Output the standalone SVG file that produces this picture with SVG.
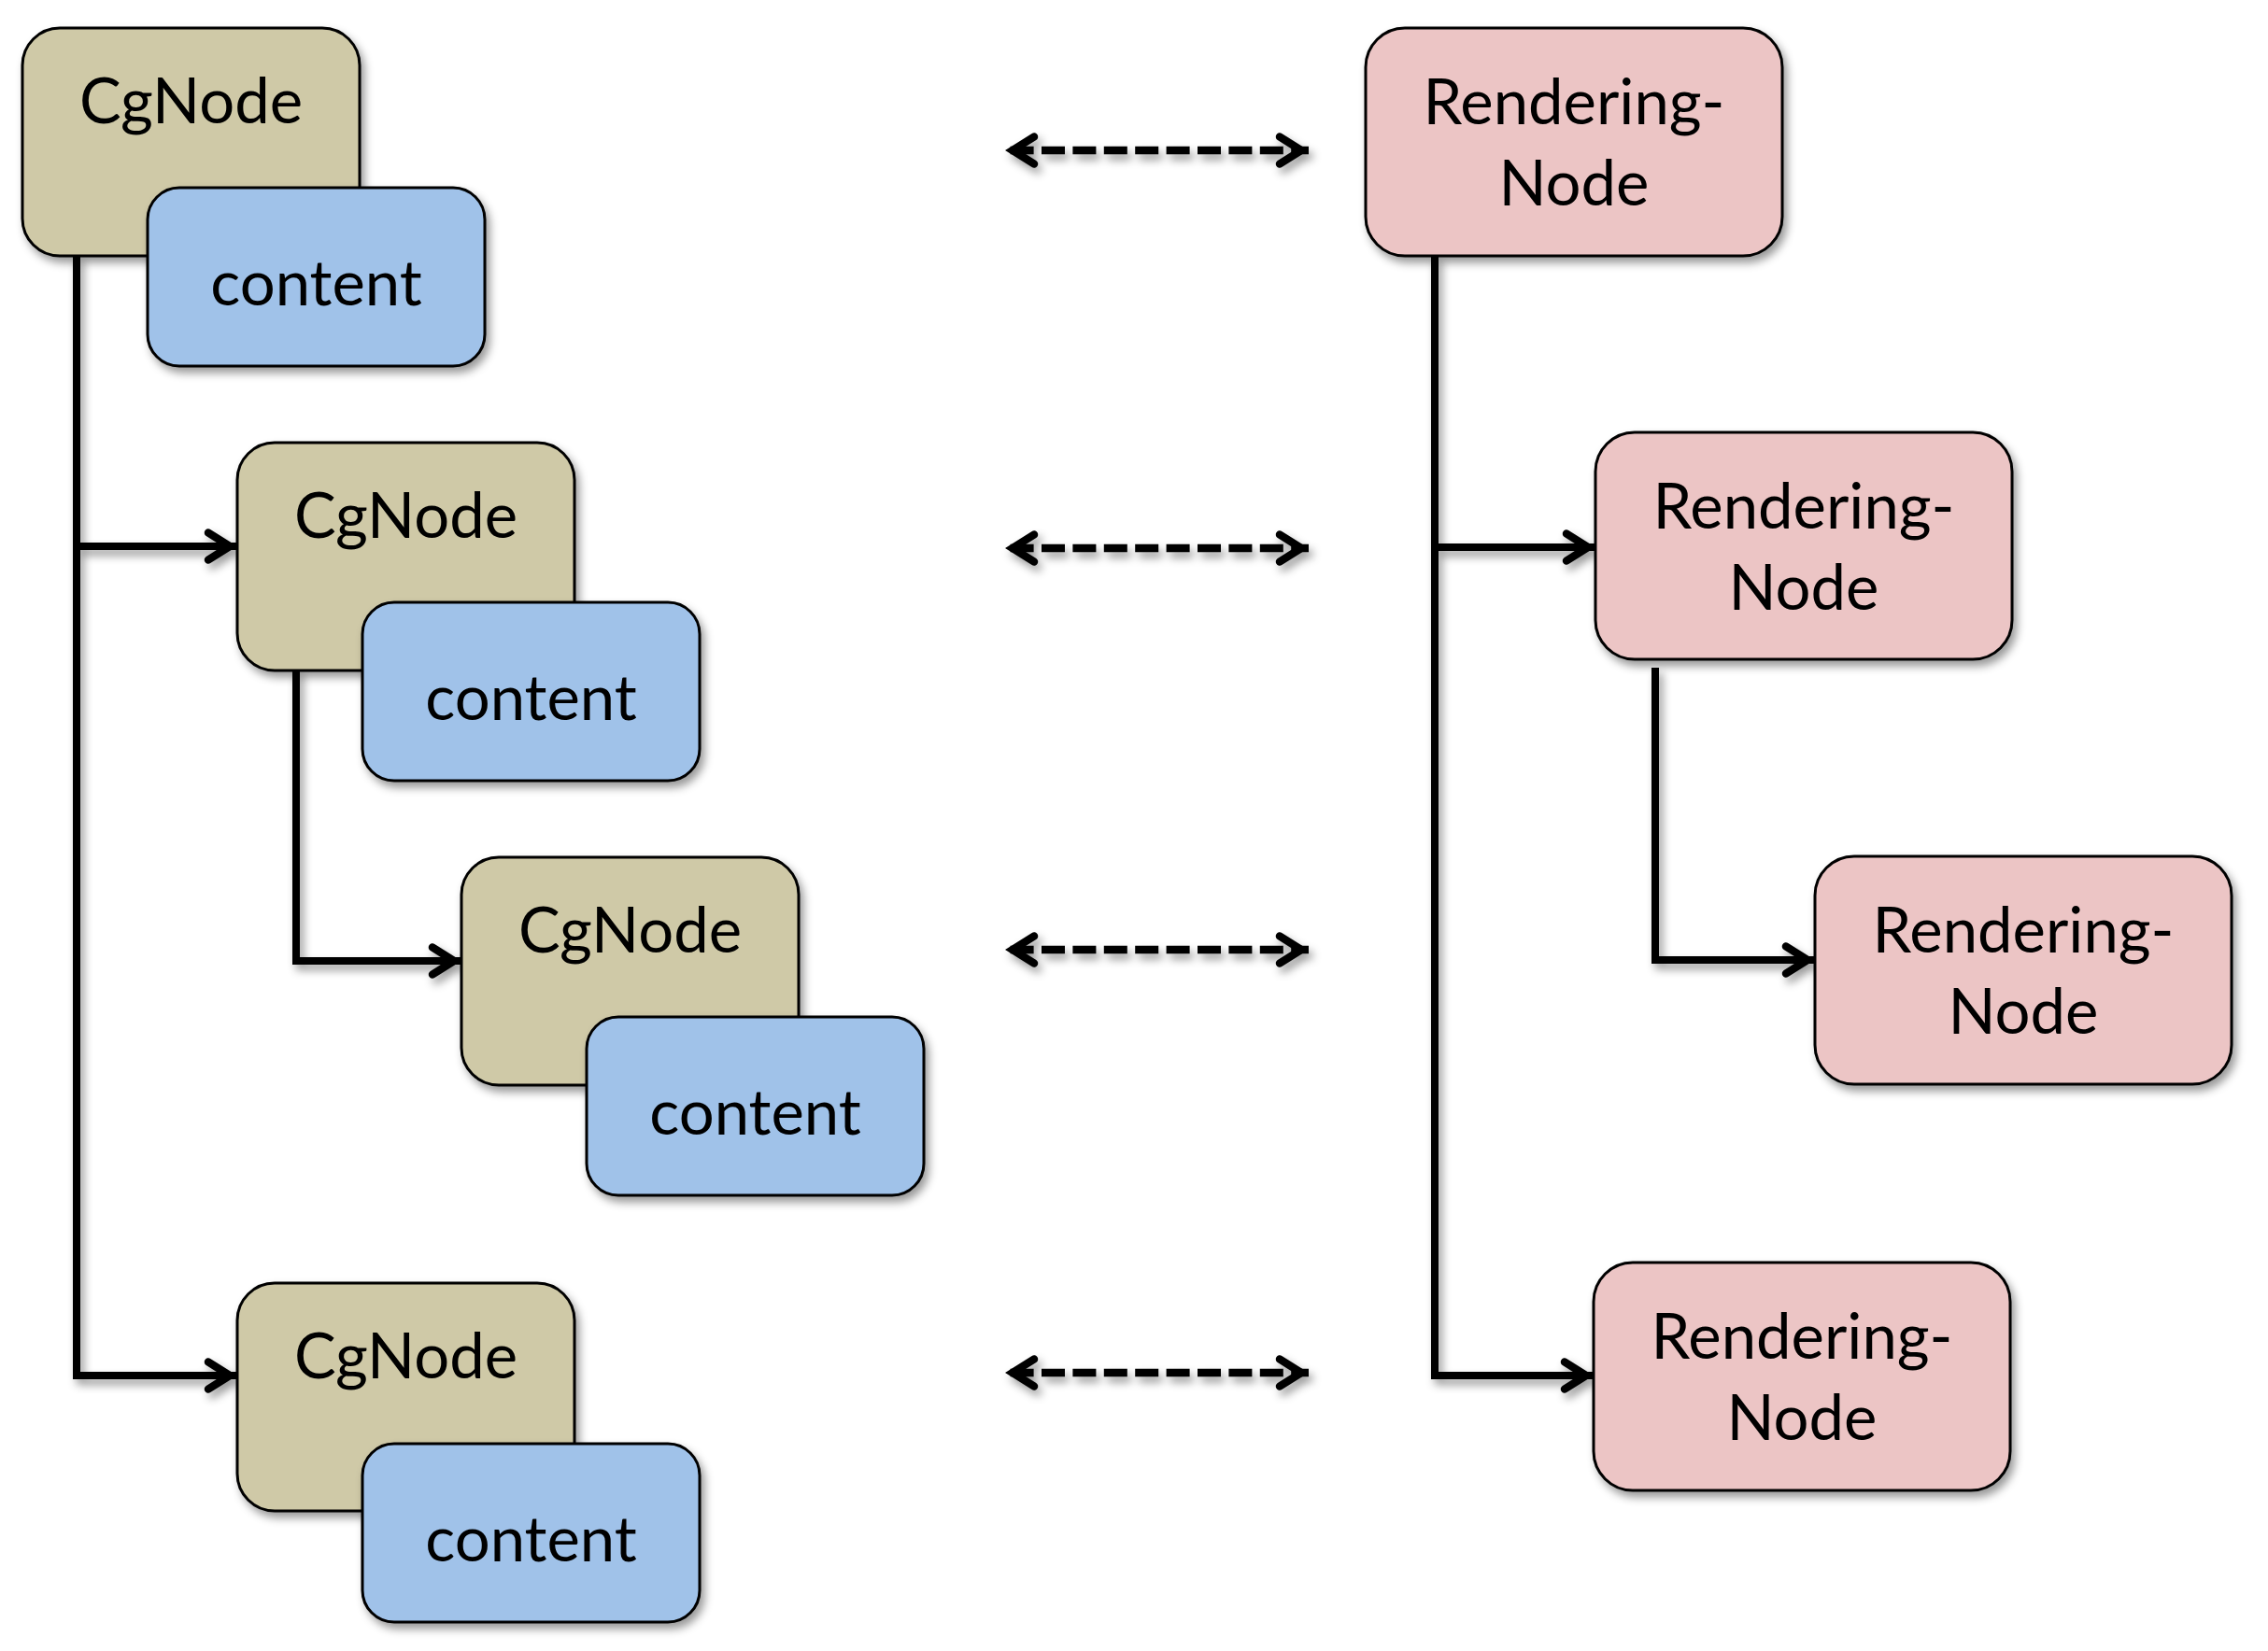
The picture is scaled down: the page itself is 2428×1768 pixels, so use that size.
<svg xmlns="http://www.w3.org/2000/svg" width="2428" height="1768" viewBox="0 0 2428 1768">
  <defs>
    <filter id="sh" x="-10%" y="-10%" width="130%" height="140%">
      <feDropShadow dx="4" dy="6" stdDeviation="5" flood-color="#000" flood-opacity="0.4"/>
    </filter>
    <marker id="chev" markerUnits="userSpaceOnUse" viewBox="-44 -24 50 48" refX="0" refY="0" markerWidth="50" markerHeight="48" orient="auto-start-reverse" overflow="visible">
      <path d="M -31 -14.5 L -8 0 L -31 14.5" fill="none" stroke="#000" stroke-width="8.5" stroke-linecap="round" stroke-linejoin="miter" stroke-dasharray="none"/>
    </marker>
    <style>
      .cg { fill: #CFC9A7; stroke: #000; stroke-width: 3; }
      .ct { fill: #A0C2E9; stroke: #000; stroke-width: 3; }
      .rn { fill: #ECC5C5; stroke: #000; stroke-width: 3; }
      .lbl { font-family: Lato, "Liberation Sans", sans-serif; font-size: 67px; fill: #000; text-anchor: middle; }
      .ln { fill: none; stroke: #000; stroke-width: 8; stroke-linejoin: miter; stroke-linecap: butt; }
      .dash { fill: none; stroke: #000; stroke-width: 8.5; stroke-dasharray: 25 8.4; stroke-dashoffset: 27.8; }
    </style>
  </defs>
  <rect width="2428" height="1768" fill="#fff"/>

  <g id="connectors" filter="url(#sh)">
    <path class="ln" d="M 82 274 V 1473 H 254" marker-end="url(#chev)"/>
    <path class="ln" d="M 82 585 H 254" marker-end="url(#chev)"/>
    <path class="ln" d="M 317 717 V 1029 H 494" marker-end="url(#chev)"/>
    <path class="ln" d="M 1536 274 V 1473 H 1706" marker-end="url(#chev)"/>
    <path class="ln" d="M 1536 586 H 1708" marker-end="url(#chev)"/>
    <path class="ln" d="M 1772 715 V 1028 H 1943" marker-end="url(#chev)"/>
    <path class="dash" d="M 1076 161 H 1401" marker-start="url(#chev)" marker-end="url(#chev)"/>
    <path class="dash" d="M 1076 587 H 1401" marker-start="url(#chev)" marker-end="url(#chev)"/>
    <path class="dash" d="M 1076 1017 H 1401" marker-start="url(#chev)" marker-end="url(#chev)"/>
    <path class="dash" d="M 1076 1470 H 1401" marker-start="url(#chev)" marker-end="url(#chev)"/>
  </g>

  <g id="cgnode1">
    <rect class="cg" x="24" y="30" width="361" height="244" rx="40" filter="url(#sh)"/>
    <text class="lbl" x="204.5" y="132">CgNode</text>
  </g>
  <g id="content1">
    <rect class="ct" x="158" y="201" width="361" height="191" rx="34" filter="url(#sh)"/>
    <text class="lbl" x="338.5" y="327">content</text>
  </g>

  <g id="cgnode2">
    <rect class="cg" x="254" y="474" width="361" height="244" rx="40" filter="url(#sh)"/>
    <text class="lbl" x="434.5" y="576">CgNode</text>
  </g>
  <g id="content2">
    <rect class="ct" x="388" y="645" width="361" height="191" rx="34" filter="url(#sh)"/>
    <text class="lbl" x="568.5" y="771">content</text>
  </g>

  <g id="cgnode3">
    <rect class="cg" x="494" y="918" width="361" height="244" rx="40" filter="url(#sh)"/>
    <text class="lbl" x="674.5" y="1020">CgNode</text>
  </g>
  <g id="content3">
    <rect class="ct" x="628" y="1089" width="361" height="191" rx="34" filter="url(#sh)"/>
    <text class="lbl" x="808.5" y="1215">content</text>
  </g>

  <g id="cgnode4">
    <rect class="cg" x="254" y="1374" width="361" height="244" rx="40" filter="url(#sh)"/>
    <text class="lbl" x="434.5" y="1476">CgNode</text>
  </g>
  <g id="content4">
    <rect class="ct" x="388" y="1546" width="361" height="191" rx="34" filter="url(#sh)"/>
    <text class="lbl" x="568.5" y="1672">content</text>
  </g>

  <g id="rendering1">
    <rect class="rn" x="1462" y="30" width="446" height="244" rx="42" filter="url(#sh)"/>
    <text class="lbl" x="1685" y="133">Rendering-</text>
    <text class="lbl" x="1685" y="220">Node</text>
  </g>
  <g id="rendering2">
    <rect class="rn" x="1708" y="463" width="446" height="243" rx="42" filter="url(#sh)"/>
    <text class="lbl" x="1931" y="566">Rendering-</text>
    <text class="lbl" x="1931" y="653">Node</text>
  </g>
  <g id="rendering3">
    <rect class="rn" x="1943" y="917" width="446" height="244" rx="42" filter="url(#sh)"/>
    <text class="lbl" x="2166" y="1020">Rendering-</text>
    <text class="lbl" x="2166" y="1107">Node</text>
  </g>
  <g id="rendering4">
    <rect class="rn" x="1706" y="1352" width="446" height="244" rx="42" filter="url(#sh)"/>
    <text class="lbl" x="1929" y="1455">Rendering-</text>
    <text class="lbl" x="1929" y="1542">Node</text>
  </g>
</svg>
